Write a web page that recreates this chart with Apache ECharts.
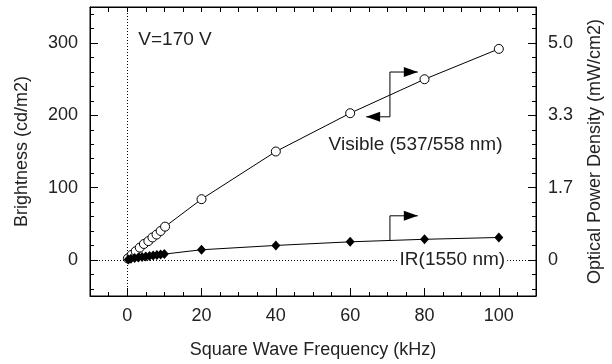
<!DOCTYPE html>
<html>
<head>
<meta charset="utf-8">
<script src="https://cdn.jsdelivr.net/npm/echarts@6/dist/echarts.min.js"></script>
<style>
  html, body { margin: 0; padding: 0; background: #fff; }
  #chart { width: 612px; height: 364px; }
</style>
</head>
<body>
<div id="chart"></div>
<script>
// frequency (kHz) and brightness (cd/m2)
const visFreq = [0.2, 1.2, 2.3, 3.4, 4.5, 5.7, 6.8, 7.9, 9.0, 10.2, 20, 40, 60, 80, 100];
const visBright = [2, 7, 12, 17, 22, 26, 31, 35, 40, 46, 84, 150, 203, 250, 292];
const irFreq = [0.3, 1, 2, 3, 4, 5, 6, 7, 8, 9, 10, 20, 40, 60, 80, 100];
const irBright = [0.5, 1.5, 2.5, 3.3, 4, 4.7, 5.4, 6, 6.7, 7.3, 8, 14, 20, 25, 28.5, 31];

const xLabels = [0, 20, 40, 60, 80, 100];
const yLabels = [0, 100, 200, 300];
const yMinorTicks = [-40, -20, 0, 20, 40, 60, 80, 100, 120, 140, 160, 180, 200, 220, 240, 260, 280, 300, 320, 340];

const FONT = 'Liberation Sans';
const TEXT_COLOR = '#222';
const black = '#000';

const chart = echarts.init(document.getElementById('chart'));

const zip = (a, b) => a.map((v, i) => [v, b[i]]);

const baseX = {
  type: 'value', min: -10, max: 110, interval: 5,
  axisLine: { show: true, onZero: false, lineStyle: { color: black, width: 1 } },
  splitLine: { show: false },
};
const baseY = {
  type: 'value', min: -50, max: 350,
  axisLine: { show: true, onZero: false, lineStyle: { color: black, width: 1 } },
  splitLine: { show: false },
};
const noLine = { show: false, onZero: false };

const option = {
  animation: false,
  grid: { left: 90, right: 73, top: 7, bottom: 67, show: true, borderColor: black, borderWidth: 1 },
  xAxis: [
    {
      ...baseX, position: 'bottom',
      axisTick: { inside: true, length: 4, lineStyle: { color: black } },
      axisLabel: { customValues: xLabels, color: TEXT_COLOR, fontFamily: FONT, fontSize: 18, margin: 11 },
      name: 'Square Wave Frequency (kHz)', nameLocation: 'middle', nameGap: 45,
      nameTextStyle: { color: TEXT_COLOR, fontFamily: FONT, fontSize: 18 },
    },
    {
      ...baseX, position: 'bottom',
      axisLine: noLine,
      axisTick: { inside: true, length: 8, customValues: xLabels, lineStyle: { color: black } },
      axisLabel: { show: false },
    },
    {
      ...baseX, position: 'top',
      axisTick: { inside: true, length: 5, lineStyle: { color: black } },
      axisLabel: { show: false },
    },
  ],
  yAxis: [
    {
      ...baseY, position: 'left',
      axisTick: { inside: true, length: 4, customValues: yMinorTicks, lineStyle: { color: black } },
      axisLabel: { customValues: yLabels, color: TEXT_COLOR, fontFamily: FONT, fontSize: 18, margin: 12 },
      name: 'Brightness (cd/m2)', nameLocation: 'middle', nameGap: 59,
      nameTextStyle: { color: TEXT_COLOR, fontFamily: FONT, fontSize: 18 },
    },
    {
      ...baseY, position: 'left',
      axisLine: noLine,
      axisTick: { inside: true, length: 8, customValues: yLabels, lineStyle: { color: black } },
      axisLabel: { show: false },
    },
    {
      ...baseY, position: 'right',
      axisTick: { inside: true, length: 4, customValues: yMinorTicks, lineStyle: { color: black } },
      axisLabel: {
        customValues: yLabels, color: TEXT_COLOR, fontFamily: FONT, fontSize: 18, margin: 12,
        formatter: (v) => (v === 0 ? '0' : (v / 60).toFixed(1)),
      },
      name: 'Optical Power Density (mW/cm2)', nameLocation: 'middle', nameGap: 50, nameRotate: 90,
      nameTextStyle: { color: TEXT_COLOR, fontFamily: FONT, fontSize: 18 },
    },
    {
      ...baseY, position: 'right',
      axisLine: noLine,
      axisTick: { inside: true, length: 8, customValues: yLabels, lineStyle: { color: black } },
      axisLabel: { show: false },
    },
  ],
  series: [
    {
      name: 'Visible', type: 'line', xAxisIndex: 0, yAxisIndex: 0,
      data: zip(visFreq, visBright),
      symbol: 'circle', symbolSize: 9,
      itemStyle: { color: '#fff', borderColor: black, borderWidth: 1 },
      lineStyle: { color: black, width: 1 },
      z: 3,
      markLine: {
        silent: true, symbol: 'none', label: { show: false },
        lineStyle: { color: black, width: 1, type: [1, 2] },
        data: [{ xAxis: 0 }, { yAxis: 0 }],
      },
    },
    {
      name: 'IR', type: 'line', xAxisIndex: 0, yAxisIndex: 0,
      data: zip(irFreq, irBright),
      symbol: 'diamond', symbolSize: [9, 10],
      itemStyle: { color: black },
      lineStyle: { color: black, width: 1 },
      z: 4,
    },
  ],
};

chart.setOption(option);

// annotations placed in data coordinates
const px = (x, y) => chart.convertToPixel({ gridIndex: 0 }, [x, y]);

function arrowHead(tip, dir) {
  const [tx, ty] = tip;
  const bx = tx - dir * 14;
  return {
    type: 'polygon',
    shape: { points: [[tx, ty], [bx, ty - 5], [bx, ty + 5]] },
    style: { fill: black },
  };
}

const visA = px(70.7, 260), visB = px(70.7, 198);
const visR = px(78.2, 260), visL = px(64.3, 198);
const irA = px(70.7, 27), irB = px(70.7, 61), irR = px(78.2, 61);
const irLbl = px(87.5, 0);
const vLbl = px(3, 304);
const visLbl = px(54.2, 160);

const textStyle = { fill: TEXT_COLOR, fontFamily: FONT, fontSize: 19 };

chart.setOption({
  graphic: [
    { type: 'polyline', shape: { points: [visR, visA, visB, visL] }, style: { stroke: black, lineWidth: 1, fill: null } },
    arrowHead(visR, 1),
    arrowHead(visL, -1),
    { type: 'polyline', shape: { points: [irA, irB, irR] }, style: { stroke: black, lineWidth: 1, fill: null } },
    arrowHead(irR, 1),
    { type: 'text', x: vLbl[0], y: vLbl[1], style: { ...textStyle, text: 'V=170 V', verticalAlign: 'middle' } },
    { type: 'text', x: visLbl[0], y: visLbl[1], style: { ...textStyle, text: 'Visible (537/558 nm)', verticalAlign: 'middle' } },
    {
      type: 'text', x: irLbl[0], y: irLbl[1], z: 10,
      style: { ...textStyle, text: 'IR(1550 nm)', align: 'center', verticalAlign: 'middle', backgroundColor: '#fff', padding: [0, 2] },
    },
  ],
});
</script>
</body>
</html>
